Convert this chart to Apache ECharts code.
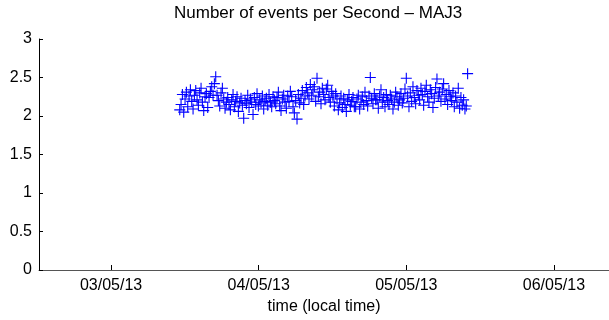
<!DOCTYPE html>
<html>
<head>
<meta charset="utf-8">
<script src="https://cdn.jsdelivr.net/npm/echarts@6/dist/echarts.min.js"></script>
<style>html,body{margin:0;padding:0;background:#fff}#c{width:609px;height:320px}</style>
</head>
<body>
<div id="c"></div>
<script>
var titleText = 'Number of events per Second \u2013 MAJ3';
var xAxisName = 'time (local time)';
var DAY = 86400000;
var tickDays = [Date.UTC(2013,4,3), Date.UTC(2013,4,4), Date.UTC(2013,4,5), Date.UTC(2013,4,6)];
var yTicks = [0, 0.5, 1, 1.5, 2, 2.5, 3];
var sampleStart = Date.UTC(2013,4,3,11,10);
var sampleStepMinutes = 13;
var eventRates = [
 2.08,2.15,2.28,2.05,2.22,2.31,2.12,2.26,2.34,2.19,2.09,2.27,
 2.33,2.21,2.14,2.30,2.36,2.18,2.07,2.25,2.29,2.11,2.24,2.32,
 2.38,2.27,2.42,2.51,2.27,2.20,2.13,2.30,2.36,2.22,2.10,2.18,
 2.24,2.15,2.08,2.21,2.28,2.12,2.19,2.25,2.06,2.17,2.23,2.14,
 1.97,2.20,2.16,2.27,2.11,2.22,2.18,2.02,2.24,2.15,2.29,2.13,
 2.21,2.17,2.26,2.09,2.19,2.23,2.14,2.28,2.18,2.12,2.25,2.20,
 2.16,2.24,2.31,2.13,2.07,2.22,2.27,2.18,2.10,2.26,2.19,2.32,
 2.25,2.12,2.04,2.20,1.96,2.28,2.17,2.23,2.33,2.15,2.26,2.37,
 2.30,2.22,2.41,2.27,2.34,2.38,2.19,2.49,2.25,2.31,2.16,2.36,
 2.28,2.21,2.35,2.40,2.24,2.18,2.32,2.26,2.13,2.29,2.22,2.08,
 2.17,2.26,2.11,2.23,2.15,2.06,2.21,2.28,2.14,2.19,2.24,2.12,
 2.12,2.22,2.27,2.09,2.18,2.25,2.15,2.31,2.20,2.13,2.26,2.50,
 2.23,2.16,2.29,2.21,2.21,2.10,2.26,2.34,2.18,2.24,2.12,2.28,
 2.20,2.15,2.27,2.22,2.09,2.18,2.31,2.25,2.14,2.21,2.29,2.17,
 2.23,2.35,2.49,2.26,2.12,2.30,2.19,2.38,2.24,2.16,2.33,2.27,
 2.21,2.36,2.28,2.14,2.32,2.40,2.25,2.18,2.34,2.29,2.11,2.23,
 2.37,2.48,2.26,2.31,2.19,2.35,2.42,2.22,2.28,2.15,2.33,2.25,
 2.20,2.30,2.12,2.26,2.18,2.36,2.10,2.24,2.14,2.21,2.09,2.13,
 2.55
];
var xMin = tickDays[0] - 0.488 * DAY;
var xMax = tickDays[3] + 0.373 * DAY;

var points = eventRates.map(function (v, i) {
  return [sampleStart + i * sampleStepMinutes * 60000, v];
});
function pad(n){return (n<10?'0':'')+n;}
var fontFam = '"Liberation Sans", Arial, sans-serif';
var chart = echarts.init(document.getElementById('c'), null, {renderer:'canvas'});
chart.setOption({
  animation: false,
  backgroundColor: '#fff',
  title: {
    text: titleText, left: 169, top: 0,
    textStyle: {fontFamily: fontFam, fontSize: 17, fontWeight: 'normal', color: '#000'}
  },
  grid: {left: 39, right: 0, top: 39, bottom: 42, containLabel: false},
  xAxis: {
    type: 'value', min: xMin, max: xMax,
    name: xAxisName, nameLocation: 'middle', nameGap: 29,
    nameTextStyle: {fontFamily: fontFam, fontSize: 16, color: '#000'},
    axisLine: {lineStyle: {color: '#555', width: 1}},
    axisTick: {inside: true, length: 5, lineStyle: {color: '#000'}, customValues: tickDays},
    axisLabel: {
      customValues: tickDays, fontFamily: fontFam, fontSize: 16, color: '#000', margin: 8,
      formatter: function (v) { var d = new Date(v); return pad(d.getUTCDate()) + '/' + pad(d.getUTCMonth()+1) + '/' + String(d.getUTCFullYear()).slice(2); }
    },
    splitLine: {show: false}
  },
  yAxis: {
    type: 'value', min: 0, max: 3, interval: 0.5,
    axisLine: {show: true, lineStyle: {color: '#000', width: 1}},
    axisTick: {show: true, inside: true, length: 4, lineStyle: {color: '#000'}},
    axisLabel: {fontFamily: fontFam, fontSize: 16, color: '#000', margin: 7},
    splitLine: {show: false}
  },
  series: [{
    type: 'scatter',
    data: points,
    symbol: 'path://M0,4.5h10v1h-10z M4.5,0h1v10h-1z',
    symbolSize: 11,
    itemStyle: {color: '#0000ff', opacity: 1},
    emphasis: {disabled: true}
  }]
});
</script>
</body>
</html>
